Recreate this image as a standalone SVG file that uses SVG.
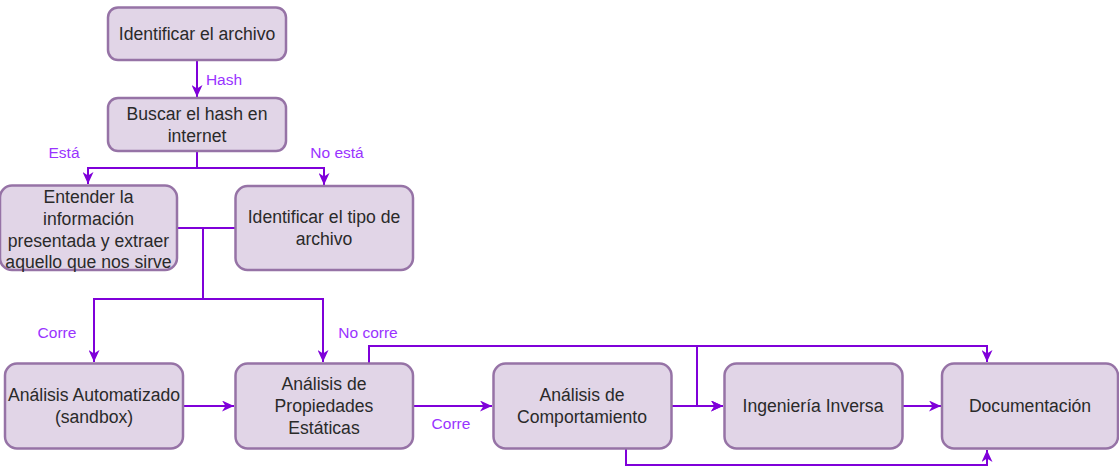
<svg xmlns="http://www.w3.org/2000/svg" width="1119" height="471" viewBox="0 0 1119 471">
<defs>
<marker id="arr" markerUnits="userSpaceOnUse" markerWidth="13" markerHeight="11" refX="12" refY="5.5" orient="auto" viewBox="0 0 13 11">
<path d="M0,0 L12,5.5 L0,11 L3.5,5.5 Z" fill="#7F00D9"/>
</marker>
<style>
.box{fill:#e1d5e7;stroke:#9673a6;stroke-width:2.5}
.t{font-family:"Liberation Sans",Arial,sans-serif;font-size:17.6px;fill:#2a2a2a;text-anchor:middle}
.lbl{font-family:"Liberation Sans",Arial,sans-serif;font-size:15.5px;fill:#9933FF;text-anchor:middle}
.c{fill:none;stroke:#7F00D9;stroke-width:2}
.ca{fill:none;stroke:#7F00D9;stroke-width:2;marker-end:url(#arr)}
</style>
</defs>
<rect width="1119" height="471" fill="#fff"/>
<g id="connectors">
<path class="ca" d="M197,60 V97"/>
<path class="ca" d="M197,151 V168 H88 V184"/>
<path class="ca" d="M197,168 H324 V185"/>
<path class="c" d="M177,228 H235"/>
<path class="ca" d="M203,228 V299 H94 V362"/>
<path class="ca" d="M203,299 H323 V362"/>
<path class="ca" d="M183,406 H234"/>
<path class="ca" d="M413,406 H492"/>
<path class="ca" d="M671,406 H723"/>
<path class="ca" d="M369,363 V346 H697 V406 H723"/>
<path class="ca" d="M697,346 H987 V362"/>
<path class="ca" d="M902,406 H941"/>
<path class="ca" d="M626,449 V465 H987 V450"/>
<text class="lbl" x="224" y="85">Hash</text>
<text class="lbl" x="64" y="158">Está</text>
<text class="lbl" x="337" y="158">No está</text>
<text class="lbl" x="57" y="338">Corre</text>
<text class="lbl" x="368" y="338">No corre</text>
<text class="lbl" x="451" y="429">Corre</text>
</g>
<g id="n1"><rect class="box" x="108" y="7.5" width="178" height="52.5" rx="10"/><text class="t" x="197" y="40">Identificar el archivo</text></g>
<g id="n2"><rect class="box" x="108" y="98" width="178" height="53" rx="10"/><text class="t" x="197" y="120">Buscar el hash en</text><text class="t" x="197" y="142">internet</text></g>
<g id="n3"><rect class="box" x="0" y="185.5" width="177" height="84.5" rx="12"/><text class="t" x="88.5" y="203">Entender la</text><text class="t" x="88.5" y="225">información</text><text class="t" x="88.5" y="247">presentada y extraer</text><text class="t" x="88.5" y="268">aquello que nos sirve</text></g>
<g id="n4"><rect class="box" x="235.5" y="186" width="177.5" height="84" rx="12"/><text class="t" x="324" y="223">Identificar el tipo de</text><text class="t" x="324" y="245">archivo</text></g>
<g id="n5"><rect class="box" x="5" y="363.5" width="178" height="85" rx="12"/><text class="t" x="94" y="401">Análisis Automatizado</text><text class="t" x="94" y="423">(sandbox)</text></g>
<g id="n6"><rect class="box" x="235.5" y="363.5" width="177.5" height="85" rx="12"/><text class="t" x="324" y="390">Análisis de</text><text class="t" x="324" y="412">Propiedades</text><text class="t" x="324" y="434">Estáticas</text></g>
<g id="n7"><rect class="box" x="493.5" y="363.5" width="178" height="85" rx="12"/><text class="t" x="582" y="401">Análisis de</text><text class="t" x="582" y="423">Comportamiento</text></g>
<g id="n8"><rect class="box" x="724.5" y="363.5" width="178" height="85" rx="12"/><text class="t" x="813" y="412">Ingeniería Inversa</text></g>
<g id="n9"><rect class="box" x="942" y="363.5" width="176" height="85" rx="12"/><text class="t" x="1030" y="412">Documentación</text></g>
</svg>
